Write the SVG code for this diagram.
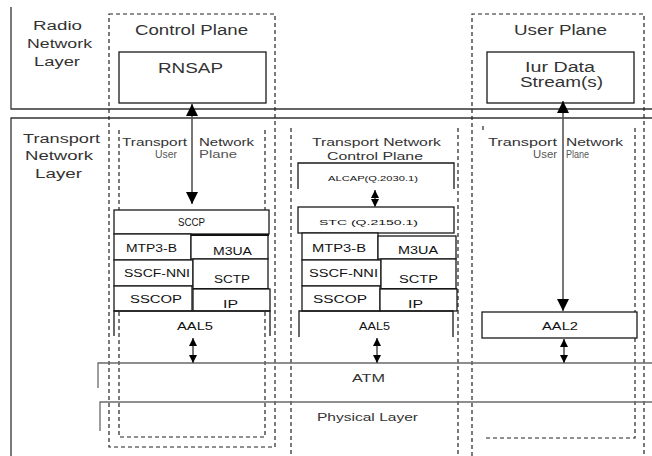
<svg xmlns="http://www.w3.org/2000/svg" width="652" height="456" viewBox="0 0 652 456">
  <style>
    text { font-family: "Liberation Sans", Arial, sans-serif; fill: #333; }
    .frame { stroke: #333; stroke-width: 1.3; fill: none; }
    .band { stroke: #6a6a6a; stroke-width: 1.3; fill: none; }
    .dash { stroke: #222; stroke-width: 1.2; stroke-dasharray: 4 3; fill: none; }
    .box { stroke: #1a1a1a; stroke-width: 1.3; fill: #fff; }
    .open { stroke: #1a1a1a; stroke-width: 1.3; fill: none; }
    .thick { stroke: #111; stroke-width: 2.2; fill: none; }
    .conn { stroke: #555; stroke-width: 1.6; fill: none; }
    .big { font-size: 14px; }
    .lbl { font-size: 12px; }
    .hdr { font-size: 11px; }
    .small { font-size: 10.5px; fill: #555; }
    .stk { font-size: 10px; fill: #111; }
    .tiny { font-size: 8px; fill: #111; }
  </style>
  <defs>
    <marker id="ah" viewBox="0 0 10 10" refX="10" refY="5" markerWidth="12" markerHeight="12" markerUnits="userSpaceOnUse" orient="auto-start-reverse">
      <path d="M0,0 L10,5 L0,10 Z" fill="#000"/>
    </marker>
    <marker id="ahs" viewBox="0 0 10 10" refX="10" refY="5" markerWidth="8" markerHeight="8" markerUnits="userSpaceOnUse" orient="auto-start-reverse">
      <path d="M0,0 L10,5 L0,10 Z" fill="#000"/>
    </marker>
  </defs>

  <!-- layer frame lines -->
  <g id="layer-frame">
    <path class="frame" d="M11,7 V109 H652"/>
    <path class="frame" d="M652,118 H11 V456"/>
  </g>

  <!-- layer titles -->
  <g id="radio-network-layer">
    <text class="lbl" x="33" y="30" textLength="49" lengthAdjust="spacingAndGlyphs">Radio</text>
    <text class="lbl" x="27" y="48" textLength="65" lengthAdjust="spacingAndGlyphs">Network</text>
    <text class="lbl" x="34" y="66" textLength="46" lengthAdjust="spacingAndGlyphs">Layer</text>
  </g>
  <g id="transport-network-layer">
    <text class="lbl" x="23" y="143" textLength="77" lengthAdjust="spacingAndGlyphs">Transport</text>
    <text class="lbl" x="25" y="160" textLength="68" lengthAdjust="spacingAndGlyphs">Network</text>
    <text class="lbl" x="35" y="178" textLength="47" lengthAdjust="spacingAndGlyphs">Layer</text>
  </g>

  <!-- plane outlines -->
  <g id="plane-outlines">
    <rect class="dash" x="109" y="14" width="166" height="433"/>
    <path class="dash" d="M119,130 V437 H265 V130"/>
    <path class="dash" d="M291,128 V456 M458,128 V456"/>
    <path class="dash" d="M472,456 V14 H644 V456"/>
    <path class="dash" d="M635,128 V438 H486"/>
    <path class="dash" d="M483,126 V131"/>
  </g>

  <!-- bearer bands -->
  <g id="atm">
    <path class="band" d="M98,388 V363 H652"/>
    <text class="hdr" x="352" y="382" textLength="33" lengthAdjust="spacingAndGlyphs">ATM</text>
  </g>
  <g id="physical-layer">
    <path class="band" d="M100,431 V402 H652"/>
    <text class="hdr" x="317" y="421" textLength="101" lengthAdjust="spacingAndGlyphs">Physical Layer</text>
  </g>

  <!-- control plane -->
  <g id="control-plane">
    <text class="big" x="135" y="35" textLength="113" lengthAdjust="spacingAndGlyphs">Control Plane</text>
  </g>
  <g id="rnsap">
    <rect class="box" x="119" y="52" width="147" height="51"/>
    <text class="big" x="158" y="73" font-size="15" textLength="65" lengthAdjust="spacingAndGlyphs">RNSAP</text>
  </g>

  <!-- user plane -->
  <g id="user-plane">
    <text class="big" x="514" y="35" textLength="93" lengthAdjust="spacingAndGlyphs">User Plane</text>
  </g>
  <g id="iur-data-streams">
    <rect class="box" x="487" y="52" width="147" height="51"/>
    <text class="big" x="525" y="72" textLength="70" lengthAdjust="spacingAndGlyphs">Iur Data</text>
    <text class="big" x="520" y="87" textLength="83" lengthAdjust="spacingAndGlyphs">Stream(s)</text>
  </g>

  <!-- transport network user plane (control side) -->
  <g id="tnup-left-title">
    <text class="hdr" x="122" y="146" textLength="65" lengthAdjust="spacingAndGlyphs">Transport</text>
    <text class="hdr" x="199" y="146" textLength="55" lengthAdjust="spacingAndGlyphs">Network</text>
    <text class="small" x="155" y="158" textLength="22" lengthAdjust="spacingAndGlyphs">User</text>
    <text class="small" x="199" y="158" textLength="38" lengthAdjust="spacingAndGlyphs">Plane</text>
  </g>
  <g id="sccp">
    <rect class="box" x="114" y="210" width="155" height="24"/>
    <text class="stk" x="178" y="226" textLength="27" lengthAdjust="spacingAndGlyphs">SCCP</text>
  </g>
  <g id="mtp3b-left">
    <rect class="box" x="114" y="234" width="77" height="26"/>
    <text class="stk" x="126" y="252" textLength="51" lengthAdjust="spacingAndGlyphs">MTP3-B</text>
  </g>
  <g id="m3ua-left">
    <rect class="box" x="191" y="235" width="77" height="24"/>
    <path class="thick" d="M191,235 H269"/>
    <text class="stk" x="213" y="255" textLength="39" lengthAdjust="spacingAndGlyphs">M3UA</text>
  </g>
  <g id="sscf-nni-left">
    <rect class="box" x="114" y="260" width="79" height="26"/>
    <text class="stk" x="124" y="277" textLength="66" lengthAdjust="spacingAndGlyphs">SSCF-NNI</text>
  </g>
  <g id="sctp-left">
    <rect class="box" x="193" y="259" width="75" height="30"/>
    <path class="thick" d="M193,289 H269"/>
    <text class="stk" x="214" y="283" textLength="36" lengthAdjust="spacingAndGlyphs">SCTP</text>
  </g>
  <g id="sscop-left">
    <rect class="box" x="114" y="286" width="78" height="25"/>
    <text class="stk" x="130" y="303" textLength="52" lengthAdjust="spacingAndGlyphs">SSCOP</text>
  </g>
  <g id="ip-left">
    <rect class="box" x="193" y="289" width="77" height="22"/>
    <text class="stk" x="223" y="308" textLength="15" lengthAdjust="spacingAndGlyphs">IP</text>
  </g>
  <g id="aal5-left">
    <path class="open" d="M114,336 V311 H270 V336"/>
    <text class="stk" x="177" y="330" textLength="36" lengthAdjust="spacingAndGlyphs">AAL5</text>
  </g>

  <!-- transport network control plane -->
  <g id="tncp-title">
    <text class="hdr" x="312" y="146" textLength="129" lengthAdjust="spacingAndGlyphs">Transport Network</text>
    <text class="hdr" x="327" y="160" textLength="96" lengthAdjust="spacingAndGlyphs">Control Plane</text>
  </g>
  <g id="alcap">
    <path class="open" d="M298,189 V163 H454 V189"/>
    <text class="tiny" x="328" y="181" textLength="90" lengthAdjust="spacingAndGlyphs">ALCAP(Q.2030.1)</text>
  </g>
  <g id="stc">
    <rect class="box" x="298" y="207" width="156" height="26"/>
    <text class="tiny" x="319" y="225" textLength="99" lengthAdjust="spacingAndGlyphs">STC (Q.2150.1)</text>
  </g>
  <g id="mtp3b-mid">
    <rect class="box" x="302" y="233" width="76" height="27"/>
    <text class="stk" x="312" y="252" textLength="54" lengthAdjust="spacingAndGlyphs">MTP3-B</text>
  </g>
  <g id="m3ua-mid">
    <rect class="box" x="378" y="236" width="78" height="23"/>
    <text class="stk" x="398" y="254" textLength="40" lengthAdjust="spacingAndGlyphs">M3UA</text>
  </g>
  <g id="sscf-nni-mid">
    <rect class="box" x="302" y="260" width="79" height="26"/>
    <text class="stk" x="309" y="277" textLength="69" lengthAdjust="spacingAndGlyphs">SSCF-NNI</text>
  </g>
  <g id="sctp-mid">
    <rect class="box" x="381" y="259" width="75" height="30"/>
    <path class="thick" d="M381,289 H457"/>
    <text class="stk" x="399" y="283" textLength="39" lengthAdjust="spacingAndGlyphs">SCTP</text>
  </g>
  <g id="sscop-mid">
    <rect class="box" x="302" y="286" width="78" height="25"/>
    <text class="stk" x="313" y="303" textLength="54" lengthAdjust="spacingAndGlyphs">SSCOP</text>
  </g>
  <g id="ip-mid">
    <rect class="box" x="380" y="289" width="77" height="22"/>
    <text class="stk" x="408" y="308" textLength="15" lengthAdjust="spacingAndGlyphs">IP</text>
  </g>
  <g id="aal5-mid">
    <path class="open" d="M299,337 V311 H453 V337"/>
    <text class="stk" x="359" y="330" textLength="31" lengthAdjust="spacingAndGlyphs">AAL5</text>
  </g>

  <!-- transport network user plane (user side) -->
  <g id="tnup-right-title">
    <text class="hdr" x="488" y="146" textLength="69" lengthAdjust="spacingAndGlyphs">Transport</text>
    <text class="hdr" x="566" y="146" textLength="57" lengthAdjust="spacingAndGlyphs">Network</text>
    <text class="small" x="533" y="158" textLength="24" lengthAdjust="spacingAndGlyphs">User</text>
    <text class="small" x="566" y="158" textLength="23" lengthAdjust="spacingAndGlyphs">Plane</text>
  </g>
  <g id="aal2">
    <rect class="box" x="482" y="312" width="155" height="26"/>
    <text class="stk" x="542" y="330" textLength="36" lengthAdjust="spacingAndGlyphs">AAL2</text>
  </g>

  <!-- connectors -->
  <g id="connectors">
    <line class="conn" x1="192" y1="104" x2="192" y2="204" marker-start="url(#ah)" marker-end="url(#ah)"/>
    <line class="conn" x1="563" y1="101" x2="563" y2="311" marker-start="url(#ah)" marker-end="url(#ah)"/>
    <line class="conn" x1="375" y1="190" x2="375" y2="207" marker-start="url(#ahs)" marker-end="url(#ahs)"/>
    <line class="conn" x1="193" y1="338" x2="193" y2="363" marker-start="url(#ahs)" marker-end="url(#ahs)"/>
    <line class="conn" x1="377" y1="338" x2="377" y2="363" marker-start="url(#ahs)" marker-end="url(#ahs)"/>
    <line class="conn" x1="564" y1="339" x2="564" y2="363" marker-start="url(#ahs)" marker-end="url(#ahs)"/>
  </g>
</svg>
